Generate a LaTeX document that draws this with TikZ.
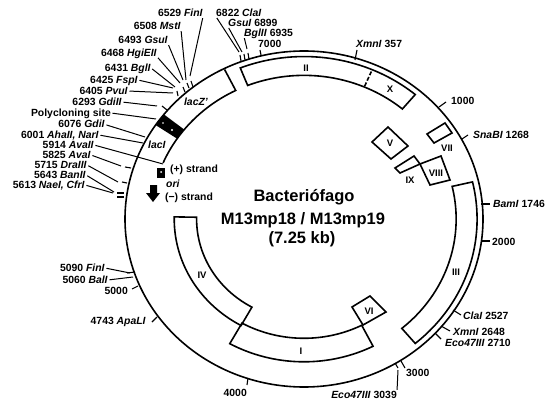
\documentclass[tikz,border=0pt]{standalone}
\usepackage{fontspec}
\setmainfont{Liberation Sans}
\begin{document}
\begin{tikzpicture}[x=1pt,y=-1pt,
  declare function={ex(\a,\f)=304+179*\f*cos(\a); ey(\a,\f)=219-168*\f*sin(\a);},
  ring/.style={line width=1.6pt,line join=miter},
  lead/.style={line width=1pt,shorten <=1.5pt},
  tick/.style={line width=1.1pt},
  lab/.style={inner sep=0pt,text height=7pt,text depth=0pt,font=\fontsize{10.4}{12}\selectfont\bfseries},
  gene/.style={inner sep=0pt,font=\fontsize{9.5}{10}\selectfont\bfseries},
  title/.style={inner sep=0pt,font=\fontsize{16.5}{20}\selectfont\bfseries}]
\newcommand\gbox[4]{\draw[ring] plot[domain=#1:#2,samples=50] ({ex(\x,#3)},{ey(\x,#3)}) -- plot[domain=#2:#1,samples=50] ({ex(\x,#4)},{ey(\x,#4)}) -- cycle;}
% #1 name #2 x #3 y #4 anchor #5 text #6 node anchor for leader #7 end x #8 end y
\newcommand\site[8]{\node[lab,anchor=#4] (#1) at (#2,#3) {#5};\coordinate (#1e) at (#7,#8);\draw[lead] (#1.#6) -- (#1e);}
\newcommand\tk[4]{\draw[tick] (#1,#2) -- (#3,#4);}
\useasboundingbox (0,0) rectangle (546,401);
\fill[white] (0,0) rectangle (546,401);
% main circle
\draw[ring] (304,219) ellipse [x radius=179,y radius=168];
% genes
\gbox{50}{111.6}{.967}{.855}
\draw[ring,dashed,dash pattern=on 4pt off 2pt] ({ex(66.8,.955)},{ey(66.8,.955)}) -- ({ex(66.8,.855)},{ey(66.8,.855)});
\gbox{-50}{13.2}{.967}{.85}
\gbox{-119.2}{-63}{.85}{.71}
\gbox{179}{241}{.725}{.6}
% lacZ / lacI inner line
\draw[ring] ({ex(116.5,.995)},{ey(116.5,.995)}) -- plot[domain=116.5:157,samples=40] ({ex(\x,.855)},{ey(\x,.855)});
\fill ({ex(141.5,1)},{ey(141.5,1)}) -- ({ex(146,1)},{ey(146,1)}) -- ({ex(146,.855)},{ey(146,.855)}) -- ({ex(141.5,.855)},{ey(141.5,.855)}) -- cycle;
\fill[white] (172,130) circle (1.2pt) (163,123) circle (.8pt);
% free boxes
\draw[ring] (352,307) -- (370,296) -- (386,312) -- (363,325) -- cycle;
\draw[ring] (372,142) -- (388,127) -- (408,146) -- (391,159) -- cycle;
\draw[ring] (427,134) -- (445,123) -- (452,133) -- (434,143) -- cycle;
\draw[ring] (395,168) -- (414,156) -- (420,164) -- (400,173) -- cycle;
\draw[ring] (420,164) -- (441,156) -- (450,180) -- (430,185) -- cycle;
% gene labels
\node[gene] (gII) at (306,68) {II};
\node[gene] (gX) at (390,89) {X};
\node[gene] (gIII) at (456,272) {III};
\node[gene] (gI) at (301,351) {I};
\node[gene] (gIV) at (202,275) {IV};
\node[gene] (gVI) at (369,311) {VI};
\node[gene] (gV) at (390,143) {V};
\node[gene] (gVII) at (447,148) {VII};
\node[gene] (gIX) at (410,180) {IX};
\node[gene] (gVIII) at (436,173) {VIII};
\node[lab,anchor=center] (lacZ) at (196,102) {\textit{lacZ'}};
\node[lab,anchor=center] (lacI) at (157,145) {\textit{lacI}};
% title
\node[title] (t1) at (304,197) {Bacteriófago};
\node[title] (t2) at (303,220) {M13mp18 / M13mp19};
\node[title] (t3) at (302,239) {(7.25 kb)};
% left/top labels
\site{a1}{203}{13}{east}{6529 \textit{FinI}}{south east}{190}{76}
\site{a2}{181}{26}{east}{6508 \textit{MstI}}{south east}{186}{80}
\site{a3}{168}{40}{east}{6493 \textit{GsuI}}{south east}{183}{80}
\site{a4}{157}{53}{east}{6468 \textit{HgiEII}}{south east}{180}{83}
\site{a5}{151}{68}{east}{6431 \textit{BglI}}{east}{175}{87}
\site{a6}{138}{80}{east}{6425 \textit{FspI}}{east}{173}{88}
\site{a7}{128}{91}{east}{6405 \textit{PvuI}}{east}{173}{93}
\site{a8}{122}{102}{east}{6293 \textit{GdiII}}{east}{157}{106}
\site{a9}{111}{113}{east}{Polycloning site}{east}{156}{119}
\site{a10}{105}{124.5}{east}{6076 \textit{GdiI}}{east}{145}{137}
\site{a11}{99}{135}{east}{6001 \textit{AhaII, NarI}}{east}{143}{143}
\site{a12}{94}{145}{east}{5914 \textit{AvaII}}{east}{163}{164}
\site{a13}{91}{155}{east}{5825 \textit{AvaI}}{east}{121}{166}
\site{a14}{87}{165}{east}{5715 \textit{DraIII}}{east}{118}{182}
\site{a15}{86}{175}{east}{5643 \textit{BanII}}{east}{114}{192}
\site{a16}{85}{185}{east}{5613 \textit{NaeI, CfrI}}{east}{113}{193}
\site{b1}{105}{268}{east}{5090 \textit{FinI}}{east}{130}{273}
\site{b2}{108}{280}{east}{5060 \textit{BalI}}{east}{133}{277}
\site{c1}{216}{13}{west}{6822 \textit{ClaI}}{south west}{239}{52}
\site{c2}{228}{23}{west}{\textit{GsuI} 6899}{south west}{242}{52}
\site{c3}{244}{33}{west}{\textit{BglII} 6935}{south west}{247}{49}
\site{d1}{397}{395}{east}{\textit{Eco47III} 3039}{north east}{398}{370}
% labels with ticks
\node[lab,anchor=west] (n7000) at (258,44) {7000};
\node[lab,anchor=west] (xm1) at (356,44) {\textit{XmnI} 357};
\node[lab,anchor=west] (n1000) at (451,101) {1000};
\node[lab,anchor=west] (sna) at (473,135) {\textit{SnaBI} 1268};
\node[lab,anchor=west] (bam) at (493,204) {\textit{BamI} 1746};
\node[lab,anchor=west] (n2000) at (492,242) {2000};
\node[lab,anchor=west] (cla) at (463,316) {\textit{ClaI} 2527};
\node[lab,anchor=west] (xm2) at (453,332) {\textit{XmnI} 2648};
\node[lab,anchor=west] (eco) at (445,343) {\textit{Eco47III} 2710};
\node[lab,anchor=west] (n3000) at (406,373) {3000};
\node[lab,anchor=east] (n4000) at (247,393) {4000};
\node[lab,anchor=east] (apa) at (146,321) {4743 \textit{ApaLI}};
\node[lab,anchor=east] (n5000) at (128,291) {5000};
% ticks
\tk{355}{60}{357}{50}\tk{260}{50}{261}{55}
\tk{439}{107}{446}{102}\tk{462}{139}{468}{135}
\tk{481}{204}{490}{204}\tk{481}{241}{490}{241}
\tk{453}{310}{461}{315}\tk{441}{326}{450}{331}\tk{435}{333}{441}{339}
\tk{401}{361}{405}{368}\tk{395}{363}{398}{368}
\tk{248}{378}{247}{385}\tk{157}{317}{152}{322}\tk{138}{286}{132}{289}
\tk{240}{55}{241}{61}\tk{244}{54}{245}{60}\tk{248}{53}{249}{59}
\tk{177}{91}{178}{96}\tk{183}{87}{185}{92}\tk{187}{83}{189}{88}\tk{191}{81}{193}{87}
\tk{162}{106}{167}{110}\tk{125}{167}{131}{168}\tk{122}{182}{127}{183}
\tk{117}{193}{124}{193}\tk{117}{197}{124}{197}
\tk{127}{273}{135}{272}
% ori
\fill (157,168) rectangle (165,178);
\fill[white] (161,172) circle (1pt);
\node[lab,anchor=west] (plus) at (170,169) {(+) strand};
\node[lab,anchor=west] (ori) at (166,184) {\textit{ori}};
\node[lab,anchor=west] (minus) at (165,197) {(−) strand};
\fill (150,185) -- (157,185) -- (157,193) -- (160,193) -- (153,202) -- (146,193) -- (150,193) -- cycle;
\end{tikzpicture}
\end{document}
